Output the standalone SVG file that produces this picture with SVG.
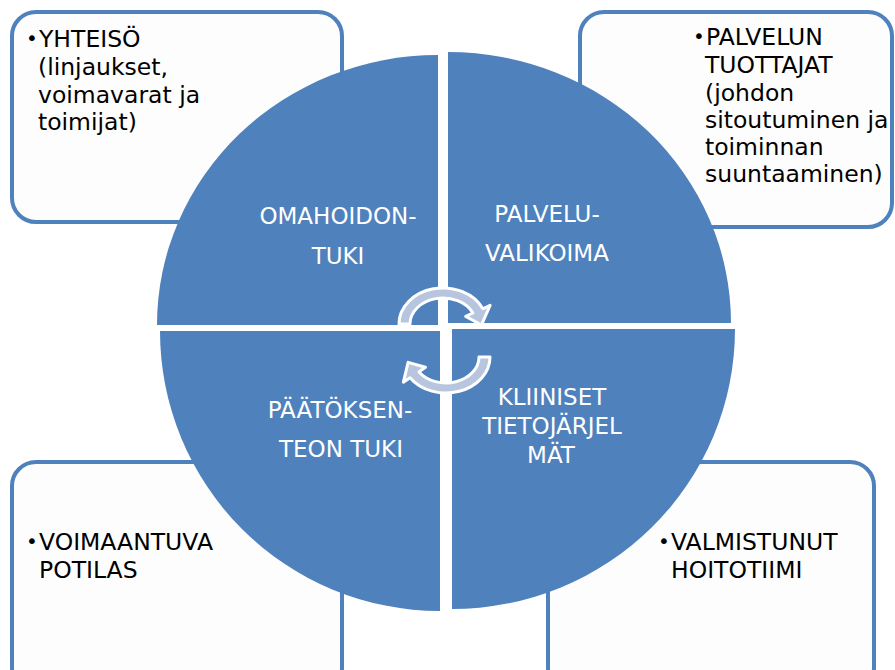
<svg xmlns="http://www.w3.org/2000/svg" width="895" height="670" viewBox="0 0 895 670">
<style>
.box{fill:#fdfdfd;stroke:#4f81bd;stroke-width:4}
.q{fill:#4f81bd}
.bt{font-family:"DejaVu Sans","Liberation Sans",sans-serif;font-size:23.5px;fill:#000}
.bu{font-family:"DejaVu Sans","Liberation Sans",sans-serif;font-size:20px;fill:#000}
.qt{font-family:"DejaVu Sans","Liberation Sans",sans-serif;font-size:23px;fill:#fff;text-anchor:middle}
.arr{fill:#b7c6de;stroke:#fff;stroke-width:3;stroke-linejoin:round}
</style>
<rect width="895" height="670" fill="#fff"/>
<g id="box-yhteiso">
<rect class="box" x="12" y="12" width="330" height="210" rx="24"/>
<text class="bu" x="26" y="45">•</text>
<text class="bt"><tspan x="39" y="47">YHTEISÖ</tspan><tspan x="38" y="75">(linjaukset,</tspan><tspan x="38" y="103">voimavarat ja</tspan><tspan x="38" y="130">toimijat)</tspan></text>
</g>
<g id="box-palvelun">
<rect class="box" x="580" y="12" width="312" height="215" rx="24"/>
<text class="bu" x="693" y="43">•</text>
<text class="bt"><tspan x="706" y="45">PALVELUN</tspan><tspan x="705" y="73">TUOTTAJAT</tspan><tspan x="705" y="101">(johdon</tspan><tspan x="705" y="128">sitoutuminen ja</tspan><tspan x="705" y="155">toiminnan</tspan><tspan x="705" y="182">suuntaaminen)</tspan></text>
</g>
<g id="box-potilas">
<rect class="box" x="12" y="462" width="330" height="230" rx="24"/>
<text class="bu" x="26" y="548">•</text>
<text class="bt"><tspan x="39" y="550">VOIMAANTUVA</tspan><tspan x="39" y="578">POTILAS</tspan></text>
</g>
<g id="box-hoitotiimi">
<rect class="box" x="548" y="462" width="326" height="230" rx="24"/>
<text class="bu" x="658" y="548">•</text>
<text class="bt"><tspan x="671" y="550">VALMISTUNUT</tspan><tspan x="671" y="578">HOITOTIIMI</tspan></text>
</g>
<g id="q-omahoidon">
<path class="q" d="M438,325 L157,325 A281,270 0 0 1 438,55 Z"/>
<text class="qt"><tspan x="338" y="224">OMAHOIDON-</tspan><tspan x="338" y="264">TUKI</tspan></text>
</g>
<g id="q-palvelu">
<path class="q" d="M448,323 L448,52 A283,271 0 0 1 731,323 Z"/>
<text class="qt"><tspan x="547" y="222">PALVELU-</tspan><tspan x="547" y="261">VALIKOIMA</tspan></text>
</g>
<g id="q-paatoksen">
<path class="q" d="M440,331 L440,611 A280,280 0 0 1 160,331 Z"/>
<text class="qt"><tspan x="340" y="418">PÄÄTÖKSEN-</tspan><tspan x="341" y="457">TEON TUKI</tspan></text>
</g>
<g id="q-kliiniset">
<path class="q" d="M452,329 L735,329 A283,280 0 0 1 452,609 Z"/>
<text class="qt"><tspan x="552" y="405">KLIINISET</tspan><tspan x="552" y="434">TIETOJÄRJEL</tspan><tspan x="551" y="463">MÄT</tspan></text>
</g>
<g id="connectors">
<path class="arr" d="M399,324 A44,36 0 0 1 482.9,308.8 L490.1,305.4 L481.5,325 L465.7,316.4 L472.9,313 A33,26 0 0 0 410,324 Z"/>
<path class="arr" d="M490,357 A44,36 0 0 1 410,377.7 L403.4,382.2 L408.1,362.4 L425.5,367.3 L419,371.9 A33,26 0 0 0 479,357 Z"/>
</g>
</svg>
